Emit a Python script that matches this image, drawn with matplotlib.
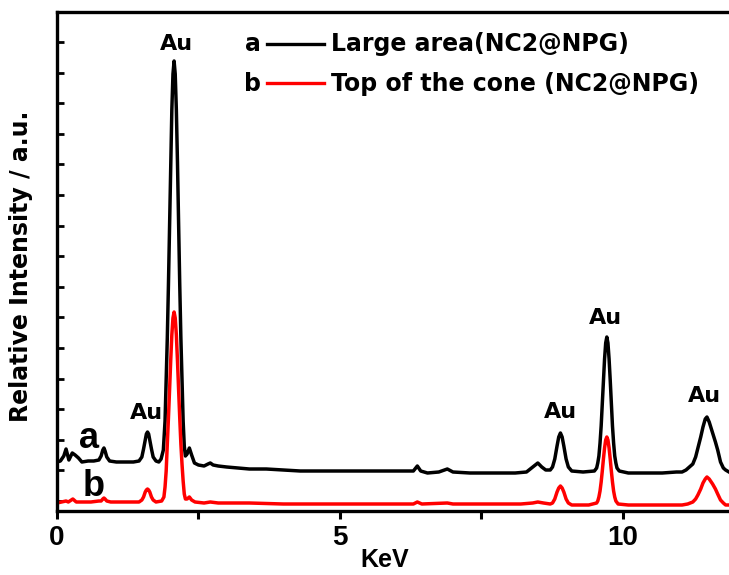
import matplotlib
matplotlib.use("Agg")
import matplotlib.pyplot as plt
import numpy as np

# ---- data, energy in keV, intensity in arbitrary units ----
a_kev = [0.00, 0.06, 0.12, 0.16, 0.21, 0.27, 0.32, 0.38, 0.44, 0.55, 0.65, 0.74, 0.78, 0.81,
         0.83, 0.85, 0.88, 0.93, 1.05, 1.20, 1.35, 1.45, 1.50, 1.53, 1.56, 1.58, 1.60, 1.62,
         1.64, 1.67, 1.70, 1.75, 1.80, 1.84, 1.88, 1.91, 1.93, 1.95, 1.97, 1.99, 2.01, 2.03,
         2.05, 2.07, 2.09, 2.11, 2.13, 2.15, 2.17, 2.19, 2.21, 2.23, 2.25, 2.27, 2.30, 2.34,
         2.38, 2.43, 2.50, 2.60, 2.67, 2.71, 2.76, 2.85, 3.00, 3.20, 3.40, 3.70, 4.00, 4.30,
         4.60, 5.00, 5.40, 5.80, 6.10, 6.30, 6.37, 6.43, 6.55, 6.75, 6.90, 7.00, 7.30, 7.70,
         8.10, 8.30, 8.41, 8.50, 8.57, 8.64, 8.72, 8.76, 8.80, 8.84, 8.87, 8.90, 8.93, 8.96,
         9.00, 9.04, 9.10, 9.30, 9.50, 9.54, 9.56, 9.58, 9.60, 9.62, 9.64, 9.66, 9.68, 9.70,
         9.72, 9.74, 9.76, 9.78, 9.80, 9.82, 9.84, 9.86, 9.88, 9.90, 9.94, 10.10, 10.40, 10.70,
         10.95, 11.05, 11.12, 11.18, 11.24, 11.29, 11.33, 11.38, 11.42, 11.46, 11.49, 11.53,
         11.59, 11.64, 11.68, 11.73, 11.78, 11.82, 11.88]
a_int = [49, 50, 55, 62, 51, 58, 56, 53, 49, 50, 50, 51, 55, 61,
         63, 60, 54, 50, 49, 49, 49, 50, 54, 62, 71, 77, 79, 77,
         71, 62, 54, 50, 49, 52, 61, 90, 130, 173, 226, 286, 348, 401,
         437, 450, 437, 401, 348, 286, 226, 173, 130, 90, 65, 55, 57, 63,
         56, 48, 46, 45, 47, 48, 46, 45, 44, 43, 42, 42, 41, 40,
         40, 40, 40, 40, 40, 40, 45, 40, 38, 39, 42, 39, 38, 38,
         38, 39, 44, 48, 44, 41, 41, 44, 52, 65, 74, 78, 74, 65,
         52, 44, 40, 39, 40, 43, 48, 55, 68, 85, 107, 131, 152, 168,
         174, 168, 152, 131, 107, 85, 68, 55, 48, 43, 40, 38, 38, 38,
         39, 39, 41, 44, 47, 54, 63, 74, 84, 92, 94, 89,
         78, 69, 61, 49, 43, 41, 39]

b_kev = [0.00, 0.08, 0.16, 0.20, 0.28, 0.34, 0.45, 0.60, 0.74, 0.78, 0.81, 0.83, 0.85, 0.88,
         0.95, 1.20, 1.45, 1.50, 1.53, 1.56, 1.58, 1.60, 1.62, 1.64, 1.67, 1.70, 1.75, 1.85,
         1.89, 1.91, 1.93, 1.95, 1.97, 1.99, 2.01, 2.03, 2.05, 2.07, 2.09, 2.11, 2.13, 2.15,
         2.17, 2.19, 2.21, 2.23, 2.25, 2.27, 2.30, 2.34, 2.38, 2.44, 2.60, 2.71, 2.85, 3.40,
         4.00, 4.60, 5.20, 5.80, 6.30, 6.37, 6.45, 6.90, 7.00, 7.60, 8.20, 8.41, 8.50, 8.60,
         8.72, 8.76, 8.80, 8.84, 8.87, 8.90, 8.93, 8.96, 9.00, 9.04, 9.10, 9.40, 9.54, 9.56,
         9.58, 9.60, 9.62, 9.64, 9.66, 9.68, 9.70, 9.72, 9.74, 9.76, 9.78, 9.80, 9.82, 9.84,
         9.86, 9.88, 9.92, 10.10, 10.60, 11.05, 11.15, 11.24, 11.29, 11.33, 11.38, 11.42, 11.46,
         11.49, 11.53, 11.59, 11.64, 11.68, 11.73, 11.78, 11.82, 11.88]
b_int = [8, 9, 10, 9, 12, 9, 9, 9, 10, 10, 12, 13, 12, 10,
         9, 9, 9, 11, 14, 19, 21, 22, 21, 19, 14, 11, 9, 10,
         14, 24, 40, 67, 93, 121, 150, 176, 193, 199, 193, 176, 150, 121,
         93, 67, 47, 30, 17, 12, 12, 14, 11, 9, 8, 9, 8, 8,
         7, 7, 7, 7, 7, 9, 7, 8, 7, 7, 7, 8, 9, 8,
         7, 8, 12, 19, 23, 25, 23, 19, 12, 8, 6, 6, 8, 10,
         14, 20, 29, 40, 52, 63, 71, 74, 71, 63, 52, 40, 29, 20,
         14, 10, 7, 6, 6, 6, 7, 9, 12, 16, 22, 28, 32,
         34, 32, 27, 22, 17, 11, 8, 6, 6]

x_ticks = [0, 5, 10]
x_ticklabels = ["0", "5", "10"]

peak_labels = ["Au", "Au", "Au", "Au", "Au"]
peak_kev = [2.12, 1.59, 8.90, 9.70, 11.45]
peak_text_y = [467, 98, 99, 193, 115]

legend_keys = ["a", "b"]
legend_texts = ["Large area(NC2@NPG)", "Top of the cone (NC2@NPG)"]

# ---- figure ----
plt.rcParams['font.family'] = ['Liberation Sans', 'DejaVu Sans']
plt.rcParams['font.weight'] = 'bold'
WIDE = ['DejaVu Sans', 'Liberation Sans']

W, H = 729, 575
fig = plt.figure(figsize=(W / 100, H / 100), dpi=100)
left, right, top, bottom = 57, 729, 12, 511
ax = fig.add_axes([left / W, 1 - bottom / H, (right - left) / W, (bottom - top) / H])

ax.plot(a_kev, a_int, color='black', lw=2.5, solid_joinstyle='round')
ax.plot(b_kev, b_int, color='red', lw=2.5, solid_joinstyle='round')

ax.set_xlim(0, 11.88)
ax.set_ylim(0, 499)

for s in ['left', 'bottom', 'top']:
    ax.spines[s].set_linewidth(2.4)
ax.spines['right'].set_visible(False)

ax.set_xticks(x_ticks)
ax.set_xticklabels(x_ticklabels, fontsize=20, fontweight='bold')
ax.set_xticks([2.5, 7.5], minor=True)
ax.tick_params(axis='x', which='both', direction='out', length=6, width=2.2, pad=4, top=False)
ax.set_yticks(np.arange(10, 480, 30.6))
ax.set_yticklabels([])
ax.tick_params(axis='y', which='both', direction='in', length=5, width=2, right=False)

ax.set_xlabel("KeV", fontsize=18, fontweight='bold')
ax.xaxis.set_label_coords(0.487, -0.075)
ax.set_ylabel("Relative Intensity / a.u.", fontsize=17, fontweight='bold', family=WIDE)
ax.yaxis.set_label_coords(-0.036, 0.49)

for lab, xk, yv in zip(peak_labels, peak_kev, peak_text_y):
    ax.text(xk, yv, lab, ha='center', va='center', fontsize=16, fontweight='bold', family=WIDE)

ax.text(0.56, 73, "a", ha='center', va='center', fontsize=26, fontweight='bold')
ax.text(0.64, 25, "b", ha='center', va='center', fontsize=26, fontweight='bold')

# legend drawn manually in figure pixel coordinates
def fx(px):
    return px / W
def fy(py):
    return 1 - py / H

for key, txt, col, ly, by in zip(legend_keys, legend_texts, ['black', 'red'], [44, 83], [51, 91]):
    fig.text(fx(253), fy(by), key, ha='center', va='baseline', fontsize=17, fontweight='bold', family=WIDE)
    fig.add_artist(plt.Line2D([fx(267), fx(324)], [fy(ly), fy(ly)], color=col, lw=2.4))
    fig.text(fx(331), fy(by), txt, ha='left', va='baseline', fontsize=17, fontweight='bold', family=WIDE)

fig.savefig("out.png", dpi=100)
